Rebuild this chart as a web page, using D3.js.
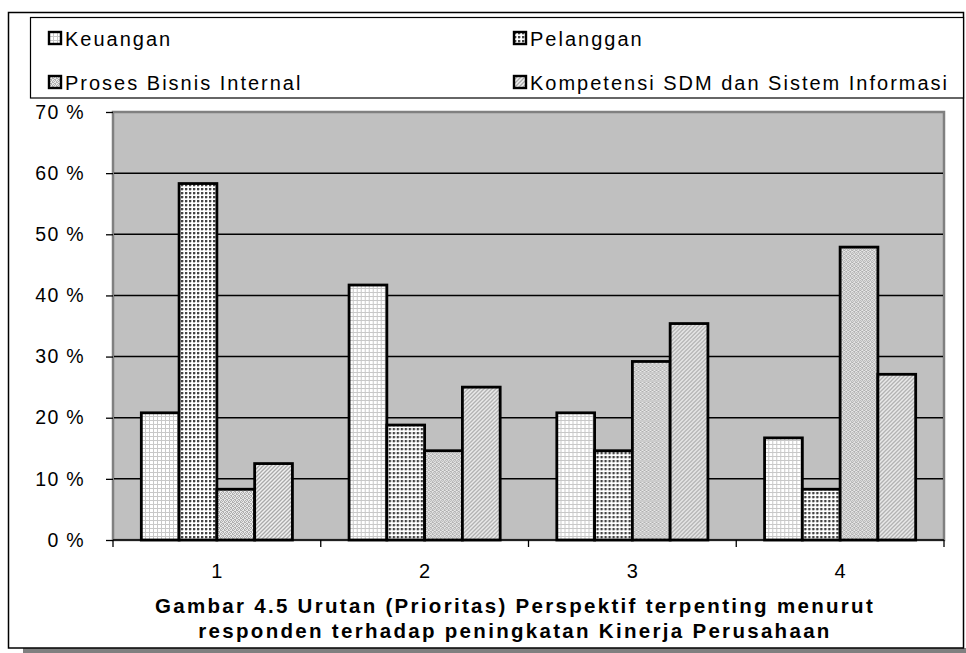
<!DOCTYPE html>
<html>
<head>
<meta charset="utf-8">
<script src="https://cdn.jsdelivr.net/npm/d3@7"></script>
<style>
  body { margin: 0; background: #fff; }
  svg { display: block; font-family: "Liberation Sans", Arial, sans-serif; }
</style>
</head>
<body>
<svg id="chart" width="966" height="653"></svg>
<script>
// data (percent of respondents)
const categories = ["1", "2", "3", "4"];
const seriesNames = ["Keuangan", "Pelanggan", "Proses Bisnis Internal", "Kompetensi SDM dan Sistem Informasi"];
const keuangan = [20.8, 41.7, 20.8, 16.7];
const pelanggan = [58.3, 18.8, 14.6, 8.3];
const proses = [8.3, 14.6, 29.2, 47.9];
const kompetensi = [12.5, 25.0, 35.4, 27.1];
const yTicks = [0, 10, 20, 30, 40, 50, 60, 70];
const titleLines = [
    "Gambar 4.5 Urutan (Prioritas) Perspektif terpenting menurut",
    "responden terhadap peningkatan Kinerja Perusahaan"
];

const seriesValues = [keuangan, pelanggan, proses, kompetensi];
const patternIds = ["pKeu", "pPel", "pPro", "pKom"];

const svg = d3.select("#chart");
const plot = { left: 113, top: 112, right: 944, bottom: 540 };

// fill patterns, like the old Excel hatches
const defs = svg.append("defs");

function pattern(id, size) {
    const p = defs.append("pattern")
        .attr("id", id)
        .attr("patternUnits", "userSpaceOnUse")
        .attr("width", size)
        .attr("height", size);
    return p;
}

// Keuangan: light grid
let p = pattern("pKeu", 4);
p.append("rect").attr("width", 4).attr("height", 4).attr("fill", "#fff");
p.append("rect").attr("width", 1).attr("height", 4).attr("fill", "#c8c8c8");
p.append("rect").attr("width", 4).attr("height", 1).attr("fill", "#c8c8c8");

// Pelanggan: dark dots
p = pattern("pPel", 4);
p.append("rect").attr("width", 4).attr("height", 4).attr("fill", "#fff");
p.append("rect").attr("width", 2).attr("height", 2).attr("fill", "#444");
p.append("rect").attr("x", 2).attr("y", 0.5).attr("width", 1).attr("height", 1).attr("fill", "#8a8a8a");
p.append("rect").attr("x", 0.5).attr("y", 2).attr("width", 1).attr("height", 1).attr("fill", "#8a8a8a");

// Proses Bisnis Internal: fine speckle
p = pattern("pPro", 4);
p.append("rect").attr("width", 4).attr("height", 4).attr("fill", "#e8e8e8");
[[0, 0], [2, 0], [1, 1], [3, 1], [0, 2], [3, 2], [1, 3], [2, 3]].forEach(([x, y]) => {
    p.append("rect").attr("x", x).attr("y", y).attr("width", 1).attr("height", 1).attr("fill", "#b0b0b0");
});

// Kompetensi: diagonal hatch
p = pattern("pKom", 4);
p.append("rect").attr("width", 4).attr("height", 4).attr("fill", "#f0f0f0");
p.append("path")
    .attr("d", "M0,4 L4,0 M-1,1 L1,-1 M3,5 L5,3")
    .attr("stroke", "#aaa")
    .attr("stroke-width", 1.3);

// outer frame with shadow
svg.append("rect")
    .attr("x", 23).attr("y", 648).attr("width", 943).attr("height", 5)
    .attr("fill", "#808080");
svg.append("rect")
    .attr("x", 8.5).attr("y", 12.5).attr("width", 955).attr("height", 635.5)
    .attr("fill", "#fff")
    .attr("stroke", "#000")
    .attr("stroke-width", 1.5);

// scales
const x = d3.scaleBand()
    .domain(categories)
    .range([plot.left, plot.right]);

const xInner = d3.scaleBand()
    .domain(d3.range(seriesNames.length))
    .range([0, x.bandwidth()])
    .paddingOuter(0.75);

const y = d3.scaleLinear()
    .domain([0, 70])
    .range([plot.bottom, plot.top]);

// plot area
svg.append("rect")
    .attr("x", plot.left).attr("y", plot.top)
    .attr("width", plot.right - plot.left)
    .attr("height", plot.bottom - plot.top)
    .attr("fill", "#c0c0c0")
    .attr("stroke", "#808080")
    .attr("stroke-width", 2.5);

// gridlines
svg.append("g")
    .selectAll("line")
    .data(yTicks.filter(d => d > 0 && d < 70))
    .enter()
    .append("line")
    .attr("x1", plot.left + 1)
    .attr("x2", plot.right - 1)
    .attr("y1", d => y(d))
    .attr("y2", d => y(d))
    .attr("stroke", "#000")
    .attr("stroke-width", 1.5);

// bars
const groups = svg.append("g")
    .selectAll("g")
    .data(categories)
    .enter()
    .append("g")
    .attr("transform", d => `translate(${x(d)},0)`);

groups.selectAll("rect")
    .data((c, ci) => seriesValues.map((vals, si) => ({ si, v: vals[ci] })))
    .enter()
    .append("rect")
    .attr("x", d => xInner(d.si))
    .attr("y", d => y(d.v))
    .attr("width", xInner.bandwidth())
    .attr("height", d => y(0) - y(d.v))
    .attr("fill", d => `url(#${patternIds[d.si]})`)
    .attr("stroke", "#000")
    .attr("stroke-width", 2.8);

// y axis
const yAxisGroup = svg.append("g")
    .attr("transform", `translate(${plot.left},0)`)
    .call(d3.axisLeft(y).tickValues(yTicks).tickFormat(d => d + " %").tickSize(7).tickPadding(21));
yAxisGroup.select(".domain").remove();
yAxisGroup.selectAll("line").attr("stroke", "#000").attr("stroke-width", 1.3);
yAxisGroup.selectAll("text")
    .attr("fill", "#000")
    .style("font-size", "19.5px")
    .style("letter-spacing", "1.3px")
    .style("font-family", "'Liberation Sans', Arial, sans-serif");

// x axis: baseline and ticks between categories
svg.append("line")
    .attr("x1", plot.left).attr("x2", plot.right)
    .attr("y1", plot.bottom).attr("y2", plot.bottom)
    .attr("stroke", "#000").attr("stroke-width", 1.5);

svg.append("g")
    .selectAll("line")
    .data(categories.map(c => x(c)).concat([plot.right]))
    .enter()
    .append("line")
    .attr("x1", d => d).attr("x2", d => d)
    .attr("y1", plot.bottom).attr("y2", plot.bottom + 7)
    .attr("stroke", "#000").attr("stroke-width", 1.3);

svg.append("g")
    .selectAll("text")
    .data(categories)
    .enter()
    .append("text")
    .attr("x", d => x(d) + x.bandwidth() / 2)
    .attr("y", 578)
    .attr("text-anchor", "middle")
    .style("font-size", "20px")
    .text(d => d);

// title under the chart
svg.append("g")
    .selectAll("text")
    .data(titleLines)
    .enter()
    .append("text")
    .attr("x", 515)
    .attr("y", (d, i) => 613 + i * 25)
    .attr("text-anchor", "middle")
    .style("font-size", "20.5px")
    .style("font-weight", "bold")
    .style("letter-spacing", "2.3px")
    .text(d => d);

// legend
const legend = svg.append("g");
legend.append("rect")
    .attr("x", 30.5).attr("y", 17.5).attr("width", 933).attr("height", 80.5)
    .attr("fill", "#fff")
    .attr("stroke", "#000")
    .attr("stroke-width", 1.2);

const legendItems = legend.selectAll("g")
    .data(seriesNames)
    .enter()
    .append("g")
    .attr("transform", (d, i) => `translate(${i % 2 === 0 ? 49 : 514},${i < 2 ? 32 : 76})`);

legendItems.append("rect")
    .attr("width", 12).attr("height", 12)
    .attr("fill", (d, i) => `url(#${patternIds[i]})`)
    .attr("stroke", "#000")
    .attr("stroke-width", 2.4);

legendItems.append("text")
    .attr("x", 16)
    .attr("y", 14)
    .style("font-size", "20px")
    .style("letter-spacing", "2px")
    .text(d => d);
</script>
</body>
</html>
